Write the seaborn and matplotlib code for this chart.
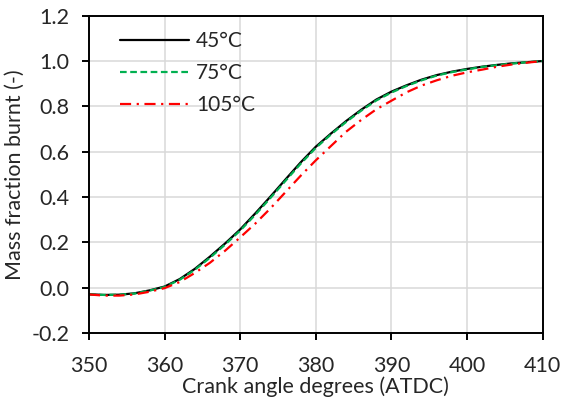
import matplotlib
matplotlib.use("Agg")
import matplotlib.pyplot as plt
import seaborn as sns
import pandas as pd

crank_angle = [350, 352, 354, 356, 358, 360, 362, 364, 366, 368, 370, 372, 374, 376, 378,
               380, 382, 384, 386, 388, 390, 392, 394, 396, 398, 400, 402, 404, 406, 408, 410]
mfb_45 = [-0.029, -0.032, -0.031, -0.025, -0.012, 0.005, 0.038, 0.083, 0.137, 0.195, 0.257,
          0.328, 0.402, 0.478, 0.553, 0.622, 0.680, 0.735, 0.785, 0.830, 0.865, 0.893, 0.918,
          0.938, 0.953, 0.965, 0.975, 0.983, 0.990, 0.995, 1.000]
mfb_75 = [-0.030, -0.032, -0.031, -0.026, -0.013, 0.003, 0.035, 0.079, 0.132, 0.190, 0.252,
          0.322, 0.396, 0.472, 0.547, 0.617, 0.676, 0.731, 0.781, 0.826, 0.861, 0.890, 0.915,
          0.936, 0.951, 0.963, 0.974, 0.982, 0.989, 0.995, 1.000]
mfb_105 = [-0.030, -0.035, -0.035, -0.030, -0.018, -0.002, 0.025, 0.065, 0.110, 0.163, 0.222,
           0.283, 0.350, 0.422, 0.494, 0.562, 0.625, 0.688, 0.740, 0.787, 0.825, 0.862, 0.892,
           0.915, 0.935, 0.950, 0.962, 0.975, 0.985, 0.993, 1.000]
series_labels = ["45°C", "75°C", "105°C"]
x_ticks = [350, 360, 370, 380, 390, 400, 410]
y_ticks = [-0.2, 0.0, 0.2, 0.4, 0.6, 0.8, 1.0, 1.2]

frames = []
for lab, vals in zip(series_labels, [mfb_45, mfb_75, mfb_105]):
    frames.append(pd.DataFrame({"angle": crank_angle, "mfb": vals, "T": lab}))
df = pd.concat(frames, ignore_index=True)

sns.set_theme(style="white")
plt.rcParams["font.family"] = ["Lato", "DejaVu Sans"]

fig = plt.figure(figsize=(5.61, 3.97), dpi=100)
ax = fig.add_axes([0.1586, 0.1612, 0.9674 - 0.1586, 0.9605 - 0.1612])

palette = {"45°C": "#000000", "75°C": "#00b050", "105°C": "#ff0000"}
dashes = {"45°C": "", "75°C": (3.0, 1.6), "105°C": (5.0, 2.5, 1.0, 2.5)}
sns.lineplot(data=df, x="angle", y="mfb", hue="T", style="T", palette=palette,
             dashes=dashes, linewidth=1.6, ax=ax, legend=True)

ax.set_xlim(350, 410)
ax.set_ylim(-0.2, 1.2)
ax.set_xticks(x_ticks)
ax.set_yticks(y_ticks)
ax.set_yticklabels([f"{v:.1f}" for v in y_ticks])
ax.grid(True, color="#d9d9d9", linewidth=1.1)
ax.set_axisbelow(True)
for s in ax.spines.values():
    s.set_visible(True)
    s.set_color("black")
    s.set_linewidth(1.4)
ax.tick_params(axis="both", which="major", direction="out", length=5, width=1.4,
               color="black", labelsize=15.5, bottom=True, left=True)
ax.tick_params(axis="x", pad=11.5)
ax.tick_params(axis="y", pad=9)
ax.set_xlabel("Crank angle degrees (ATDC)", fontsize=15.5, labelpad=0)
ax.set_ylabel("Mass fraction burnt (-)", fontsize=15.5, labelpad=5)

leg = ax.legend(loc="upper left", frameon=False, fontsize=15, handlelength=3.3,
                handletextpad=0.34, labelspacing=0.58, bbox_to_anchor=(0.0276, 1.01))

fig.savefig("out.png", dpi=100)
